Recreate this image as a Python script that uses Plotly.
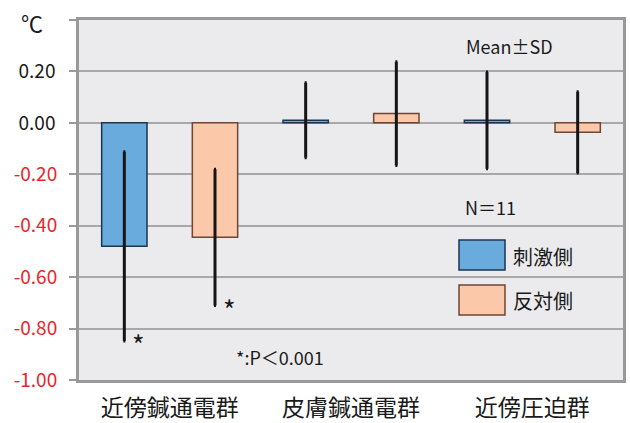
import plotly.graph_objects as go

# Temperature change (°C), mean ± SD, n = 11
groups = ["近傍鍼通電群", "皮膚鍼通電群", "近傍圧迫群"]
stim_mean = [-0.48, 0.01, 0.01]
stim_sd = [0.368, 0.146, 0.188]
opp_mean = [-0.445, 0.036, -0.037]
opp_sd = [0.265, 0.202, 0.158]
ytick_vals = [-1.0, -0.8, -0.6, -0.4, -0.2, 0.0, 0.2, 0.4]

FONT = "Noto Sans CJK JP"
W, H = 630, 423
L, R, T, B = 79, 7, 20, 43
PW, PH = W - L - R, H - T - B
BAR_W = 0.25


def px(x):
    return (x - L) / PW


def py(y):
    return (H - B - y) / PH


def fmt(v):
    return f"{v:.2f}"


fig = go.Figure()
fig.add_trace(go.Bar(
    x=groups, y=stim_mean, name="刺激側",
    width=[BAR_W] * len(groups), offset=-1.5 * BAR_W,
    marker=dict(color="#6AABDD", line=dict(color="#1E3550", width=1.5)),
    error_y=dict(type="data", array=stim_sd, visible=True,
                 color="#151515", thickness=3, width=1),
))
fig.add_trace(go.Bar(
    x=groups, y=opp_mean, name="反対側",
    width=[BAR_W] * len(groups), offset=0.5 * BAR_W,
    marker=dict(color="#FBC8AA", line=dict(color="#6E4536", width=1.5)),
    error_y=dict(type="data", array=opp_sd, visible=True,
                 color="#151515", thickness=3, width=1),
))
# invisible trace that carries the red (negative) tick labels
fig.add_trace(go.Scatter(x=[groups[0]], y=[0], yaxis="y2", mode="markers",
                         marker=dict(opacity=0), hoverinfo="skip",
                         showlegend=False))

annotations = [
    dict(x=px(32), y=py(22), text="℃", font=dict(size=22)),
    dict(x=px(509), y=py(46), text="Mean±SD", font=dict(size=18)),
    dict(x=px(490), y=py(207), text="N＝11", font=dict(size=18)),
    dict(x=px(280), y=py(357), text="*:P＜0.001", font=dict(size=18)),
    dict(x=px(543), y=py(256), text="刺激側", font=dict(size=20)),
    dict(x=px(543), y=py(300), text="反対側", font=dict(size=20)),
]
# significance marks next to the lower error-bar caps of the first group
for xc, m, s in [(-BAR_W, stim_mean[0], stim_sd[0]), (BAR_W, opp_mean[0], opp_sd[0])]:
    annotations.append(dict(x=xc, y=m - s, xref="x", yref="y", text="*",
                            xshift=14, yshift=-4, font=dict(size=27)))

for a in annotations:
    a.setdefault("xref", "paper")
    a.setdefault("yref", "paper")
    a["xanchor"] = "center"
    a["yanchor"] = "middle"
    a["showarrow"] = False
    a["font"]["family"] = FONT
    a["font"].setdefault("color", "#1a1a1a")

shapes = [
    dict(type="rect", xref="paper", yref="paper",
         x0=px(459), x1=px(505), y0=py(270), y1=py(240),
         fillcolor="#6AABDD", line=dict(color="#1E3550", width=1.5)),
    dict(type="rect", xref="paper", yref="paper",
         x0=px(459), x1=px(505), y0=py(315), y1=py(285),
         fillcolor="#FBC8AA", line=dict(color="#6E4536", width=1.5)),
]

neg_vals = [v for v in ytick_vals if v < 0]

fig.update_layout(
    width=W, height=H,
    margin=dict(l=L, r=R, t=T, b=B),
    paper_bgcolor="white",
    plot_bgcolor="#EBEBEE",
    showlegend=False,
    font=dict(family=FONT, size=19, color="#1a1a1a"),
    annotations=annotations,
    shapes=shapes,
    xaxis=dict(showticklabels=True, ticks="", showgrid=False,
               showline=True, linecolor="#999999", linewidth=2.5,
               mirror=True, range=[-0.5, 2.5], ticklabelstandoff=6,
               automargin=False,
               tickfont=dict(size=23, family=FONT, color="#1a1a1a")),
    yaxis=dict(range=[-1.0, 0.4], tickvals=ytick_vals,
               ticktext=[fmt(v) if 0 <= v < 0.3 else "" for v in ytick_vals],
               showgrid=True, gridcolor="#A8A8A8", gridwidth=1.5,
               zeroline=False, showline=True, linecolor="#999999",
               linewidth=2.5, mirror=True, ticks="outside", ticklen=7,
               tickcolor="#999999", tickwidth=1.5, ticklabelstandoff=10,
               automargin=False,
               tickfont=dict(size=19, family=FONT, color="#1a1a1a")),
    yaxis2=dict(range=[-1.0, 0.4], overlaying="y", side="left",
                tickvals=neg_vals, ticktext=[fmt(v) for v in neg_vals],
                showgrid=False, zeroline=False, showline=False,
                ticks="outside", ticklen=7, tickcolor="#999999",
                tickwidth=1.5, ticklabelstandoff=10, automargin=False,
                tickfont=dict(size=19, family=FONT, color="#E8262A")),
)

fig.write_html("out.html")
